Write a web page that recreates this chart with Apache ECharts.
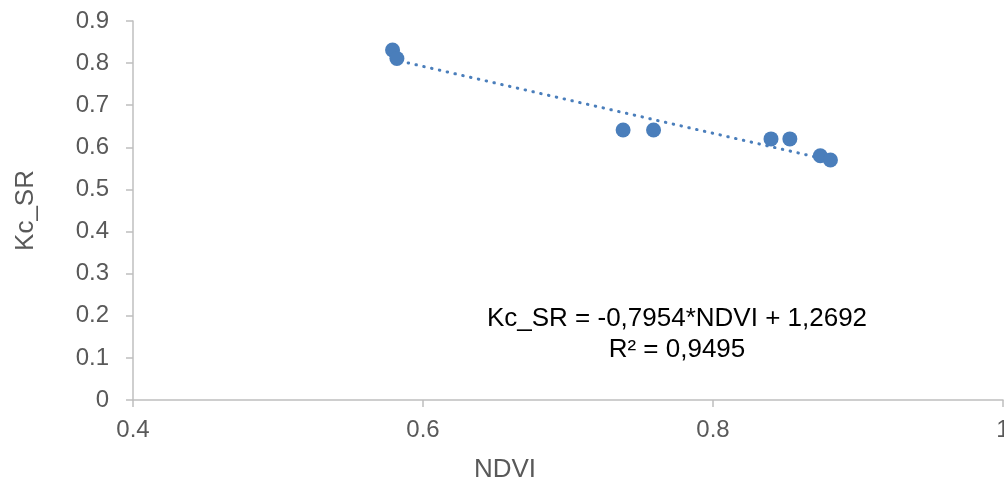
<!DOCTYPE html>
<html>
<head>
<meta charset="utf-8">
<script src="https://cdn.jsdelivr.net/npm/echarts@6/dist/echarts.min.js"></script>
<style>
  html, body { margin: 0; padding: 0; background: #fff; }
  #chart { width: 1004px; height: 490px; }
</style>
</head>
<body>
<div id="chart"></div>
<script>
// NDVI / Kc_SR pairs
var ndvi = [0.579, 0.582, 0.738, 0.759, 0.840, 0.853, 0.874, 0.881];
var kcSr = [0.831, 0.811, 0.641, 0.641, 0.620, 0.620, 0.580, 0.570];

// ends of the dotted linear trendline
var trendX = [0.579, 0.881];
var trendY = [0.809, 0.569];

var equationText = ['Kc_SR = -0,7954*NDVI + 1,2692', 'R² = 0,9495'];

var blue = '#4a7ebb';
var axisGrey = '#bfbfbf';
var labelGrey = '#595959';
var fontFam = '"Liberation Sans", Arial, sans-serif';

var points = [];
for (var i = 0; i < ndvi.length; i++) {
  points.push([ndvi[i], kcSr[i]]);
}
var trend = [];
for (var j = 0; j < trendX.length; j++) {
  trend.push([trendX[j], trendY[j]]);
}

function tickFmt(v) {
  return String(+v.toFixed(1));
}

var chartInstance = echarts.init(document.getElementById('chart'));

var option = {
  animation: false,
  grid: {
    left: 133,
    right: 1,
    top: 21,
    bottom: 90,
    outerBoundsMode: 'none'
  },
  xAxis: {
    type: 'value',
    min: 0.4,
    max: 1,
    interval: 0.2,
    name: 'NDVI',
    nameLocation: 'middle',
    nameGap: 57,
    nameTextStyle: {
      color: labelGrey,
      fontSize: 26,
      fontFamily: fontFam,
      padding: [0, 126, 0, 0]
    },
    axisLine: { show: true, lineStyle: { color: axisGrey, width: 1.5 } },
    axisTick: { show: true, length: 7, lineStyle: { color: axisGrey, width: 1.5 } },
    splitLine: { show: false },
    axisLabel: {
      color: labelGrey,
      fontSize: 24,
      fontFamily: fontFam,
      margin: 18,
      showMaxLabel: true,
      formatter: tickFmt
    }
  },
  yAxis: {
    type: 'value',
    min: 0,
    max: 0.9,
    interval: 0.1,
    name: 'Kc_SR',
    nameLocation: 'middle',
    nameRotate: 90,
    nameGap: 94,
    nameTextStyle: {
      color: labelGrey,
      fontSize: 26,
      fontFamily: fontFam
    },
    axisLine: { show: true, lineStyle: { color: axisGrey, width: 1.5 } },
    axisTick: { show: true, length: 7, lineStyle: { color: axisGrey, width: 1.5 } },
    splitLine: { show: false },
    axisLabel: {
      color: labelGrey,
      fontSize: 24,
      fontFamily: fontFam,
      margin: 24,
      formatter: tickFmt
    }
  },
  graphic: [
    {
      type: 'text',
      x: 677,
      y: 303,
      style: {
        text: equationText.join('\n'),
        fill: '#000',
        font: '26px ' + fontFam,
        align: 'center',
        verticalAlign: 'top',
        lineHeight: 31
      }
    }
  ],
  series: [
    {
      name: 'trend',
      type: 'line',
      data: trend,
      symbol: 'none',
      z: 1,
      lineStyle: {
        color: blue,
        width: 3,
        type: [0.5, 7.5],
        cap: 'round'
      }
    },
    {
      name: 'Kc_SR',
      type: 'scatter',
      data: points,
      symbol: 'circle',
      symbolSize: 15,
      z: 2,
      itemStyle: { color: blue, opacity: 1 }
    }
  ]
};

chartInstance.setOption(option);
</script>
</body>
</html>
